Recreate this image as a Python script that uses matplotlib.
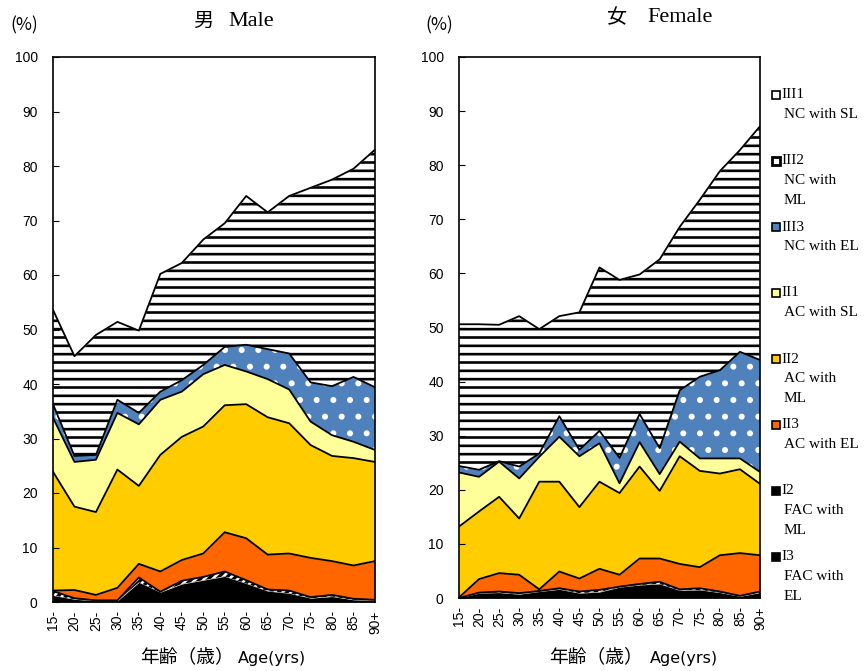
import numpy as np
import matplotlib.pyplot as plt
from matplotlib.patches import Rectangle

plt.rcParams['hatch.linewidth'] = 1.9

ages = ['15-', '20-', '25-', '30-', '35-', '40-', '45-', '50-',
        '55-', '60-', '65-', '70-', '75-', '80-', '85-', '90+']

# layer shares in %, stacked bottom -> top
male_I3 = [1.2, 0.5, 0.2, 0.2, 3.6, 1.8, 3.3, 4.0, 4.7, 3.4, 2.0, 1.6, 0.7, 1.0, 0.4, 0.3]
male_I2 = [0.8, 0.2, 0.1, 0.1, 0.9, 0.1, 0.6, 0.6, 0.9, 0.6, 0.3, 0.5, 0.2, 0.3, 0.2, 0.1]
male_II3 = [0.1, 1.5, 1.0, 2.3, 2.5, 3.7, 3.8, 4.3, 7.2, 7.7, 6.4, 6.8, 7.2, 6.2, 6.1, 7.1]
male_II2 = [21.8, 15.3, 15.2, 21.7, 14.3, 21.4, 22.6, 23.3, 23.3, 24.6, 25.2, 23.9, 20.7, 19.3, 19.7, 18.2]
male_II1 = [9.9, 8.2, 9.6, 10.4, 11.3, 10.1, 8.3, 9.6, 7.4, 6.0, 7.0, 6.2, 4.3, 3.8, 3.0, 2.2]
male_III3 = [2.5, 1.1, 0.9, 2.4, 2.1, 1.5, 2.1, 1.7, 3.3, 4.9, 5.5, 6.6, 7.2, 9.0, 11.9, 11.5]
male_III2 = [17.3, 18.3, 22.0, 14.3, 15.1, 21.6, 21.5, 23.0, 22.7, 27.3, 25.1, 28.9, 35.7, 37.9, 38.2, 43.6]

female_I3 = [0.0, 0.9, 1.0, 0.7, 1.2, 1.6, 0.9, 1.1, 2.0, 2.4, 2.6, 1.4, 1.5, 1.0, 0.3, 1.0]
female_I2 = [0.0, 0.1, 0.2, 0.2, 0.1, 0.2, 0.3, 0.4, 0.1, 0.2, 0.4, 0.2, 0.3, 0.2, 0.1, 0.2]
female_II3 = [0.1, 2.5, 3.4, 3.4, 0.3, 3.1, 2.4, 3.9, 2.2, 4.7, 4.3, 4.7, 3.9, 6.7, 7.9, 6.7]
female_II2 = [13.1, 12.5, 14.1, 10.4, 19.9, 16.6, 13.2, 16.1, 15.1, 17.0, 12.5, 19.9, 17.8, 15.1, 15.5, 13.2]
female_II1 = [10.0, 6.4, 6.5, 7.4, 4.6, 8.3, 9.4, 7.1, 1.8, 4.5, 3.1, 2.7, 2.3, 2.8, 2.0, 2.2]
female_III3 = [1.2, 1.3, 0.1, 2.2, 0.6, 3.8, 1.2, 2.3, 4.7, 5.2, 4.8, 9.5, 15.1, 16.3, 19.7, 20.7]
female_III2 = [26.2, 26.9, 25.2, 27.8, 23.0, 18.5, 25.4, 30.2, 32.9, 25.8, 34.9, 30.2, 32.7, 36.8, 37.3, 43.2]

# (face, hatch, hatch colour)
styles = {
    'I3': ('black', None, 'black'),
    'I2': ('black', '////', 'white'),
    'II3': ('#FF6600', None, '#FF6600'),
    'II2': ('#FFCC00', None, '#FFCC00'),
    'II1': ('#FFFF99', None, '#FFFF99'),
    'III3': ('#4F81BD', '.', 'white'),
    'III2': ('white', '--', 'black'),
    'III1': ('white', None, 'white'),
}
order = ['I3', 'I2', 'II3', 'II2', 'II1', 'III3', 'III2', 'III1']


def panel(ax, layers):
    x = np.arange(len(ages))
    base = np.zeros(len(ages))
    layers = dict(layers)
    layers['III1'] = 100 - sum(np.array(v) for v in layers.values())
    for key in order:
        top = base + np.array(layers[key])
        face, hatch, hc = styles[key]
        ax.fill_between(x, base, top, facecolor=face, hatch=hatch,
                        edgecolor=hc, linewidth=0)
        if key not in ('I3', 'III1'):
            ax.plot(x, top, color='black', lw=1.3)
        base = top
    ax.set_xlim(0, len(ages) - 1)
    ax.set_ylim(0, 100)
    ax.set_yticks(range(0, 101, 10))
    ax.set_xticks(x)
    ax.set_xticklabels(ages, rotation=90, fontsize=10, family='Liberation Sans')
    for lab in ax.get_yticklabels():
        lab.set_fontsize(10)
        lab.set_family('Liberation Sans')
    ax.tick_params(axis='x', length=0, pad=6)
    ax.tick_params(axis='y', direction='in', length=4, pad=11)
    for s in ax.spines.values():
        s.set_linewidth(1.2)
        s.set_zorder(5)


fig = plt.figure(figsize=(8.65, 6.71), dpi=100)
W, H = 865, 671

ax1 = fig.add_axes([53 / W, 1 - 602 / H, 322 / W, 545 / H])
ax2 = fig.add_axes([459 / W, 1 - 598 / H, 301 / W, 541 / H])

panel(ax1, {'I3': male_I3, 'I2': male_I2, 'II3': male_II3, 'II2': male_II2,
            'II1': male_II1, 'III3': male_III3, 'III2': male_III2})
panel(ax2, {'I3': female_I3, 'I2': female_I2, 'II3': female_II3, 'II2': female_II2,
            'II1': female_II1, 'III3': female_III3, 'III2': female_III2})

cjk = 'Noto Sans CJK JP'
serif = 'Liberation Serif'

# titles
fig.text(203 / W, 1 - 21 / H, '男', family=cjk, fontsize=14.5, ha='center', va='center')
fig.text(228 / W, 1 - 21 / H, 'Male', family=serif, fontsize=16, ha='left', va='center')
fig.text(617 / W, 1 - 18 / H, '女', family=cjk, fontsize=14.5, ha='center', va='center')
fig.text(647 / W, 1 - 18 / H, 'Female', family=serif, fontsize=16, ha='left', va='center')

# unit labels
fig.text(24 / W, 1 - 25 / H, '(%)', family=cjk, fontsize=12.5, ha='center', va='center')
fig.text(439 / W, 1 - 25 / H, '(%)', family=cjk, fontsize=12.5, ha='center', va='center')

# x labels
for x0, x1 in [(234, 238), (643, 650)]:
    fig.text(x0 / W, 1 - 657 / H, '年齢（歳）', family=cjk, fontsize=13.5,
             ha='right', va='center')
    fig.text(x1 / W, 1 - 658 / H, 'Age(yrs)', family='DejaVu Sans', fontsize=11.5,
             ha='left', va='center')

# legend
legend_items = [
    ('III1', ['NC with SL']),
    ('III2', ['NC with', 'ML']),
    ('III3', ['NC with EL']),
    ('II1', ['AC with SL']),
    ('II2', ['AC with', 'ML']),
    ('II3', ['AC with EL']),
    ('I2', ['FAC with', 'ML']),
    ('I3', ['FAC with', 'EL']),
]
for i, (key, lines) in enumerate(legend_items):
    y = 95 + i * 66.0
    face, hatch, hc = styles[key]
    lw = 2.0 if key == 'III2' else 1.2
    fig.add_artist(Rectangle((772 / W, 1 - (y + 4) / H), 8 / W, 8 / H,
                             transform=fig.transFigure, facecolor=face,
                             edgecolor='black', linewidth=lw))
    fig.text(781 / W, 1 - y / H, key, family=serif, fontsize=11,
             ha='left', va='center')
    for j, line in enumerate(lines):
        fig.text(784 / W, 1 - (y + 20 * (j + 1)) / H, line, family=serif,
                 fontsize=11, ha='left', va='center')

fig.savefig('out.png', dpi=100)
